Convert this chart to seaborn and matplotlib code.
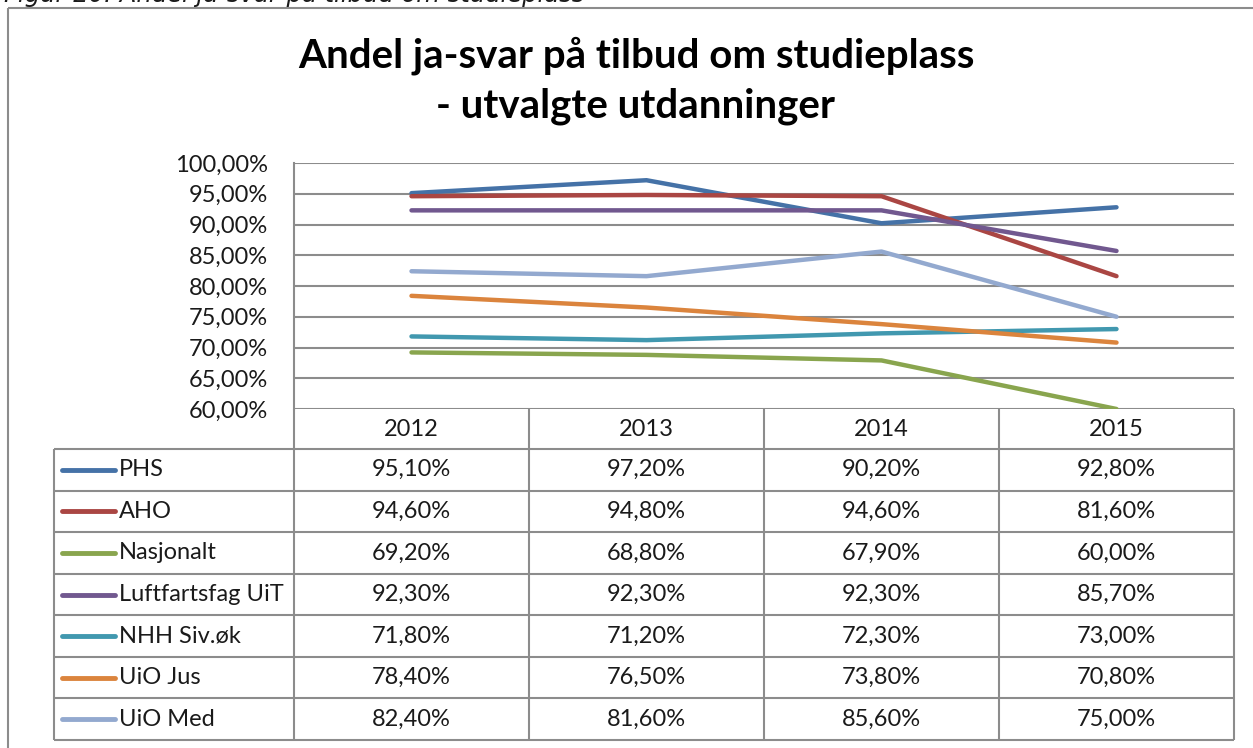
import matplotlib
matplotlib.use("Agg")
import matplotlib.pyplot as plt
import seaborn as sns
import pandas as pd

# ---- data ----
years = ["2012", "2013", "2014", "2015"]
series_names = ["PHS", "AHO", "Nasjonalt", "Luftfartsfag UiT", "NHH Siv.øk", "UiO Jus", "UiO Med"]
phs = [95.1, 97.2, 90.2, 92.8]
aho = [94.6, 94.8, 94.6, 81.6]
nasjonalt = [69.2, 68.8, 67.9, 60.0]
luftfart = [92.3, 92.3, 92.3, 85.7]
nhh = [71.8, 71.2, 72.3, 73.0]
uio_jus = [78.4, 76.5, 73.8, 70.8]
uio_med = [82.4, 81.6, 85.6, 75.0]
yticks = [60, 65, 70, 75, 80, 85, 90, 95, 100]
title_l1 = "Andel ja-svar på tilbud om studieplass"
title_l2 = "- utvalgte utdanninger"
caption = "Figur 20: Andel ja-svar på tilbud om studieplass"

values = [phs, aho, nasjonalt, luftfart, nhh, uio_jus, uio_med]
colors = ["#4572A7", "#AA4643", "#89A54E", "#71588F", "#4198AF", "#DB843D", "#93A9CF"]

rows = []
for name, vals in zip(series_names, values):
    for i, (yr, v) in enumerate(zip(years, vals)):
        rows.append({"serie": name, "x": i, "year": yr, "value": v})
df = pd.DataFrame(rows)

sns.set_theme(style="white")
plt.rcParams["font.family"] = ["Lato", "DejaVu Sans"]

W, H = 1253, 748
fig = plt.figure(figsize=(W / 100, H / 100), dpi=100)
fig.patch.set_facecolor("white")

def fx(px):
    return px / W

def fy(py):
    return 1 - py / H

FS = 17
TXT = "#1a1a1a"

# plot area
L, R, T, B = 294, 1234, 163, 409
ax = fig.add_axes([fx(L), fy(B), fx(R) - fx(L), fy(T) - fy(B)])
grid_c = "#8C8C8C"
for yv in yticks:
    ax.axhline(yv, color=grid_c, lw=1.5, zorder=0)
sns.lineplot(data=df, x="x", y="value", hue="serie", palette=colors,
             hue_order=series_names, linewidth=3.2, legend=False, ax=ax,
             solid_capstyle="round", zorder=3)
ax.set_xlim(-0.5, 3.5)
ax.set_ylim(60, 100)
ax.set_yticks(yticks)
ax.set_yticklabels([f"{v:.2f}%".replace(".", ",") for v in yticks], fontsize=FS, color=TXT)
ax.tick_params(axis="y", length=0, pad=19)
ax.set_xticks([])
ax.set_xlabel("")
ax.set_ylabel("")
for s in ["top", "right", "bottom"]:
    ax.spines[s].set_visible(False)
ax.spines["left"].set_color(grid_c)
ax.spines["left"].set_linewidth(1.5)

# overlay for table and frame
ov = fig.add_axes([0, 0, 1, 1], zorder=5)
ov.set_xlim(0, W)
ov.set_ylim(H, 0)
ov.axis("off")
ov.patch.set_alpha(0)

line_kw = dict(color=grid_c, lw=1.5, solid_capstyle="butt")
# outer frame
ov.plot([8, 8], [8, H + 5], **line_kw)
ov.plot([8, W + 5], [8, 8], **line_kw)

col_edges = [294, 529, 764, 999, 1234]
tab_left = 54
hdr_top, hdr_bot = 409, 449
tab_bot = 740
n = len(series_names)
row_h = (tab_bot - hdr_bot) / n

# header
for xe in col_edges:
    ov.plot([xe, xe], [hdr_top, hdr_bot], **line_kw)
for i, yr in enumerate(years):
    cx = (col_edges[i] + col_edges[i + 1]) / 2
    ov.text(cx, (hdr_top + hdr_bot) / 2, yr, ha="center", va="center", fontsize=FS, color=TXT)

# body
ov.plot([tab_left, col_edges[-1]], [hdr_bot, hdr_bot], **line_kw)
for r in range(n):
    yb = hdr_bot + (r + 1) * row_h
    ov.plot([tab_left, col_edges[-1]], [yb, yb], **line_kw)
for xe in [tab_left] + col_edges:
    ov.plot([xe, xe], [hdr_bot, tab_bot], **line_kw)

for r, (name, vals, c) in enumerate(zip(series_names, values, colors)):
    cy = hdr_bot + (r + 0.5) * row_h
    ov.plot([62, 115], [cy, cy], color=c, lw=3.5, solid_capstyle="round")
    ov.text(119, cy, name, ha="left", va="center", fontsize=FS, color=TXT)
    for i, v in enumerate(vals):
        cx = (col_edges[i] + col_edges[i + 1]) / 2
        ov.text(cx, cy, f"{v:.2f}%".replace(".", ","), ha="center", va="center",
                fontsize=FS, color=TXT)

# title
ov.text(636, 56, title_l1, ha="center", va="center", fontsize=29,
        fontweight="bold", color="black")
ov.text(636, 106, title_l2, ha="center", va="center", fontsize=29,
        fontweight="bold", color="black")

# clipped caption at top (only its lower edge shows, as in the reference)
ov.text(4, 1.5, caption, ha="left", va="baseline", fontsize=17.5, style="italic",
        color=TXT, family="DejaVu Sans")

fig.savefig("out.png", dpi=100)
